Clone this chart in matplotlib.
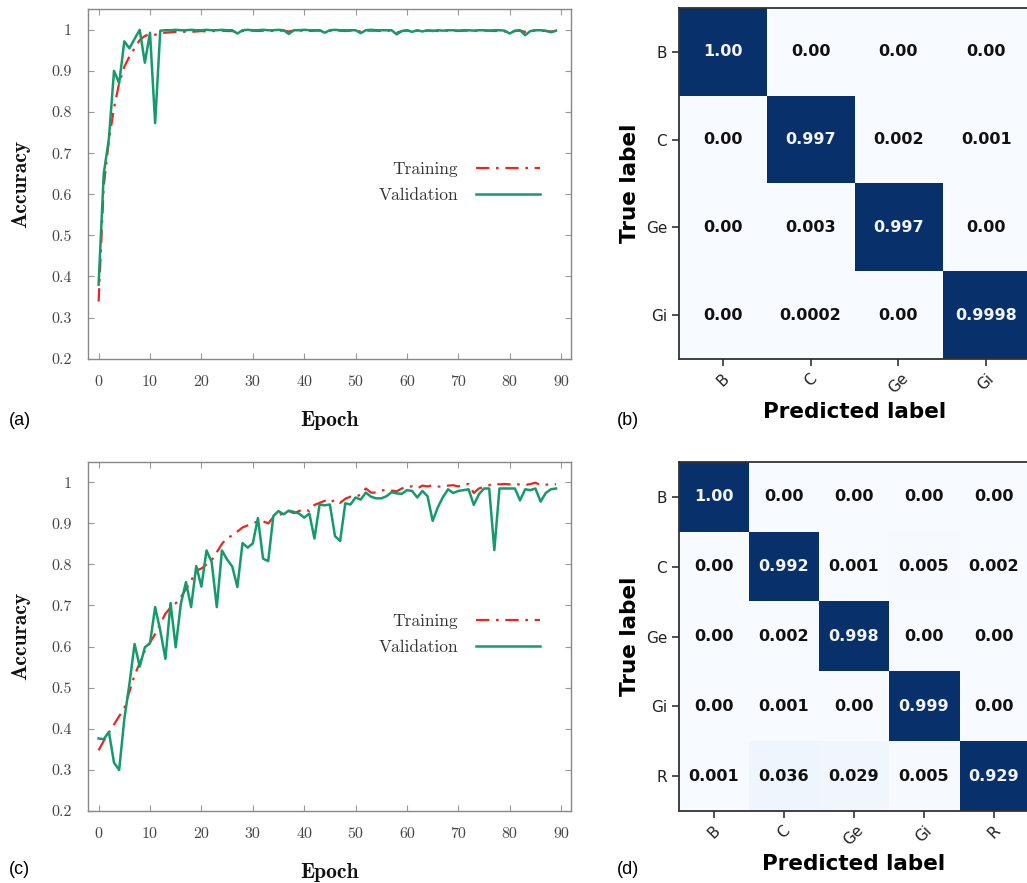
import matplotlib as mpl
import matplotlib.pyplot as plt
import numpy as np

mpl.rcParams['font.family'] = 'DejaVu Sans'
mpl.rcParams['axes.formatter.use_mathtext'] = True

# ---- accuracy curves, 90 epochs ----
epochs = np.arange(90)

train_a = [0.339, 0.620, 0.730, 0.810, 0.870, 0.910, 0.935, 0.955, 0.975, 0.985,
           0.990, 0.988, 0.992, 0.993, 0.994, 0.995, 0.994, 0.996, 0.995, 0.996,
           0.997, 0.996, 0.997, 0.997, 0.998, 0.997, 0.997, 0.994, 0.997, 0.998,
           0.998, 0.997, 0.998, 0.998, 0.997, 0.998, 0.998, 0.996, 0.998, 0.998,
           0.998, 0.997, 0.998, 0.998, 0.996, 0.998, 0.998, 0.998, 0.997, 0.998,
           0.998, 0.996, 0.998, 0.998, 0.998, 0.997, 0.998, 0.998, 0.993, 0.997,
           0.998, 0.997, 0.998, 0.997, 0.998, 0.998, 0.997, 0.998, 0.998, 0.998,
           0.997, 0.998, 0.998, 0.998, 0.997, 0.998, 0.998, 0.997, 0.998, 0.996,
           0.993, 0.997, 0.998, 0.995, 0.997, 0.998, 0.998, 0.997, 0.996, 0.997]

valid_a = [0.380, 0.650, 0.735, 0.900, 0.870, 0.972, 0.955, 0.978, 1.000, 0.920,
           0.993, 0.773, 0.998, 0.999, 0.999, 1.000, 0.999, 0.999, 1.000, 0.999,
           0.999, 1.000, 0.999, 0.999, 1.000, 0.999, 0.999, 0.991, 0.999, 1.000,
           0.999, 0.999, 1.000, 0.999, 0.999, 1.000, 0.999, 0.990, 0.999, 0.999,
           1.000, 0.999, 0.999, 0.999, 0.993, 0.999, 1.000, 0.999, 0.999, 0.999,
           0.999, 0.992, 0.999, 1.000, 0.999, 0.999, 0.999, 0.999, 0.989, 0.997,
           0.999, 0.995, 0.999, 0.996, 0.999, 0.997, 0.999, 0.998, 0.999, 0.999,
           0.998, 0.999, 0.999, 0.998, 0.999, 0.999, 0.998, 0.999, 0.999, 0.998,
           0.991, 0.998, 0.999, 0.987, 0.997, 0.999, 0.999, 0.998, 0.994, 0.998]

train_c = [0.347, 0.370, 0.390, 0.410, 0.430, 0.450, 0.490, 0.530, 0.560, 0.590,
           0.610, 0.630, 0.655, 0.680, 0.695, 0.705, 0.720, 0.740, 0.760, 0.785,
           0.790, 0.800, 0.810, 0.830, 0.850, 0.865, 0.870, 0.880, 0.890, 0.895,
           0.900, 0.905, 0.905, 0.900, 0.915, 0.920, 0.925, 0.930, 0.925, 0.930,
           0.935, 0.930, 0.945, 0.950, 0.955, 0.950, 0.958, 0.950, 0.960, 0.965,
           0.965, 0.970, 0.985, 0.975, 0.975, 0.980, 0.982, 0.980, 0.978, 0.985,
           0.990, 0.990, 0.985, 0.992, 0.990, 0.993, 0.990, 0.989, 0.992, 0.993,
           0.990, 0.994, 0.996, 0.974, 0.985, 0.989, 0.993, 0.997, 0.995, 0.996,
           0.995, 0.997, 0.994, 0.993, 0.996, 0.999, 0.993, 0.994, 0.996, 0.995]

valid_c = [0.376, 0.374, 0.392, 0.317, 0.299, 0.423, 0.509, 0.606, 0.551, 0.598,
           0.608, 0.696, 0.639, 0.570, 0.706, 0.598, 0.704, 0.757, 0.696, 0.796,
           0.746, 0.834, 0.806, 0.696, 0.834, 0.812, 0.795, 0.745, 0.852, 0.841,
           0.851, 0.913, 0.814, 0.808, 0.918, 0.930, 0.922, 0.931, 0.928, 0.924,
           0.914, 0.924, 0.863, 0.946, 0.944, 0.946, 0.869, 0.857, 0.949, 0.946,
           0.963, 0.958, 0.975, 0.965, 0.961, 0.961, 0.966, 0.976, 0.973, 0.972,
           0.981, 0.979, 0.963, 0.979, 0.966, 0.906, 0.939, 0.964, 0.983, 0.974,
           0.979, 0.981, 0.983, 0.945, 0.971, 0.985, 0.985, 0.835, 0.985, 0.985,
           0.985, 0.985, 0.956, 0.983, 0.981, 0.985, 0.953, 0.974, 0.983, 0.985]

# ---- confusion matrices ----
classes_b = ['B', 'C', 'Ge', 'Gi']
cm_b = [[1.00, 0.00, 0.00, 0.00],
        [0.00, 0.997, 0.002, 0.001],
        [0.00, 0.003, 0.997, 0.00],
        [0.00, 0.0002, 0.00, 0.9998]]

classes_d = ['B', 'C', 'Ge', 'Gi', 'R']
cm_d = [[1.00, 0.00, 0.00, 0.00, 0.00],
        [0.00, 0.992, 0.001, 0.005, 0.002],
        [0.00, 0.002, 0.998, 0.00, 0.00],
        [0.00, 0.001, 0.00, 0.999, 0.00],
        [0.001, 0.036, 0.029, 0.005, 0.929]]

xticks = list(range(0, 91, 10))
yticks = [0.2, 0.3, 0.4, 0.5, 0.6, 0.7, 0.8, 0.9, 1.0]
ylabels = ['0.2', '0.3', '0.4', '0.5', '0.6', '0.7', '0.8', '0.9', '1']


def acc_plot(ax, train, valid):
    ax.plot(epochs, train, color='#ea2620', lw=1.6, dashes=(6, 3, 1.2, 3), label='Training')
    ax.plot(epochs, valid, color='#159a6b', lw=1.8, label='Validation')
    ax.set_xlim(-2, 92)
    ax.set_ylim(0.2, 1.05)
    ax.set_xticks(xticks, [str(t) for t in xticks], fontfamily='cmr10', fontsize=11.5, color='#444444')
    ax.set_yticks(yticks, ylabels, fontfamily='cmr10', fontsize=11.5, color='#444444')
    ax.tick_params(direction='in', top=True, right=True, length=4, width=0.8,
                   color='#999999', pad=12)
    for s in ax.spines.values():
        s.set_color('#888888')
        s.set_linewidth(1.0)
    ax.set_xlabel('Epoch', fontfamily='cmb10', fontsize=15.5, labelpad=16, color='#111111')
    ax.set_ylabel('Accuracy', fontfamily='cmb10', fontsize=15.5, labelpad=15, color='#111111')
    leg = ax.legend(loc='upper right', bbox_to_anchor=(0.935, 0.565), frameon=False,
                    markerfirst=False, prop={'family': 'cmr10', 'size': 12.5},
                    handlelength=3.7, handletextpad=1.0, labelspacing=0.62,
                    borderpad=0, borderaxespad=0)
    for t in leg.get_texts():
        t.set_color('#333333')


def fmt(v):
    if v == 0 or v == 1:
        return '%.2f' % v
    return '%g' % v


def cm_plot(ax, cm, names):
    cm = np.array(cm)
    ax.imshow(cm, cmap='Blues', vmin=0, vmax=0.92, aspect='auto', interpolation='nearest')
    n = len(names)
    ax.set_xticks(range(n), names, rotation=45, fontsize=11, color='#222222')
    ax.set_yticks(range(n), names, fontsize=11, color='#222222')
    for i in range(n):
        for j in range(n):
            ax.text(j, i, fmt(cm[i, j]), ha='center', va='center', fontsize=11.5,
                    fontweight='bold', color='#f4f4f4' if cm[i, j] > 0.5 else '#111111')
    ax.set_xlabel('Predicted label', fontsize=15.5, fontweight='bold')
    ax.set_ylabel('True label', fontsize=15.5, fontweight='bold')
    for s in ax.spines.values():
        s.set_color('#333333')
        s.set_linewidth(1.3)
    ax.tick_params(length=5, width=1.2, color='#333333')


fig = plt.figure(figsize=(10.27, 8.83), dpi=100)
ax_a = fig.add_axes([0.086, 0.5938, 0.4704, 0.3957])
ax_c = fig.add_axes([0.086, 0.0819, 0.4704, 0.3951])
ax_b = fig.add_axes([0.6611, 0.5934, 0.3418, 0.3975])
ax_d = fig.add_axes([0.6611, 0.0815, 0.3408, 0.3952])

acc_plot(ax_a, train_a, valid_a)
acc_plot(ax_c, train_c, valid_c)
cm_plot(ax_b, cm_b, classes_b)
cm_plot(ax_d, cm_d, classes_d)

for lab, x, y in [('(a)', 0.009, 1 - 420 / 883), ('(b)', 0.601, 1 - 420 / 883),
                  ('(c)', 0.009, 1 - 870 / 883), ('(d)', 0.601, 1 - 870 / 883)]:
    fig.text(x, y, lab, fontsize=13, family='Liberation Sans', va='center', ha='left')

fig.savefig('out.png', dpi=100)
